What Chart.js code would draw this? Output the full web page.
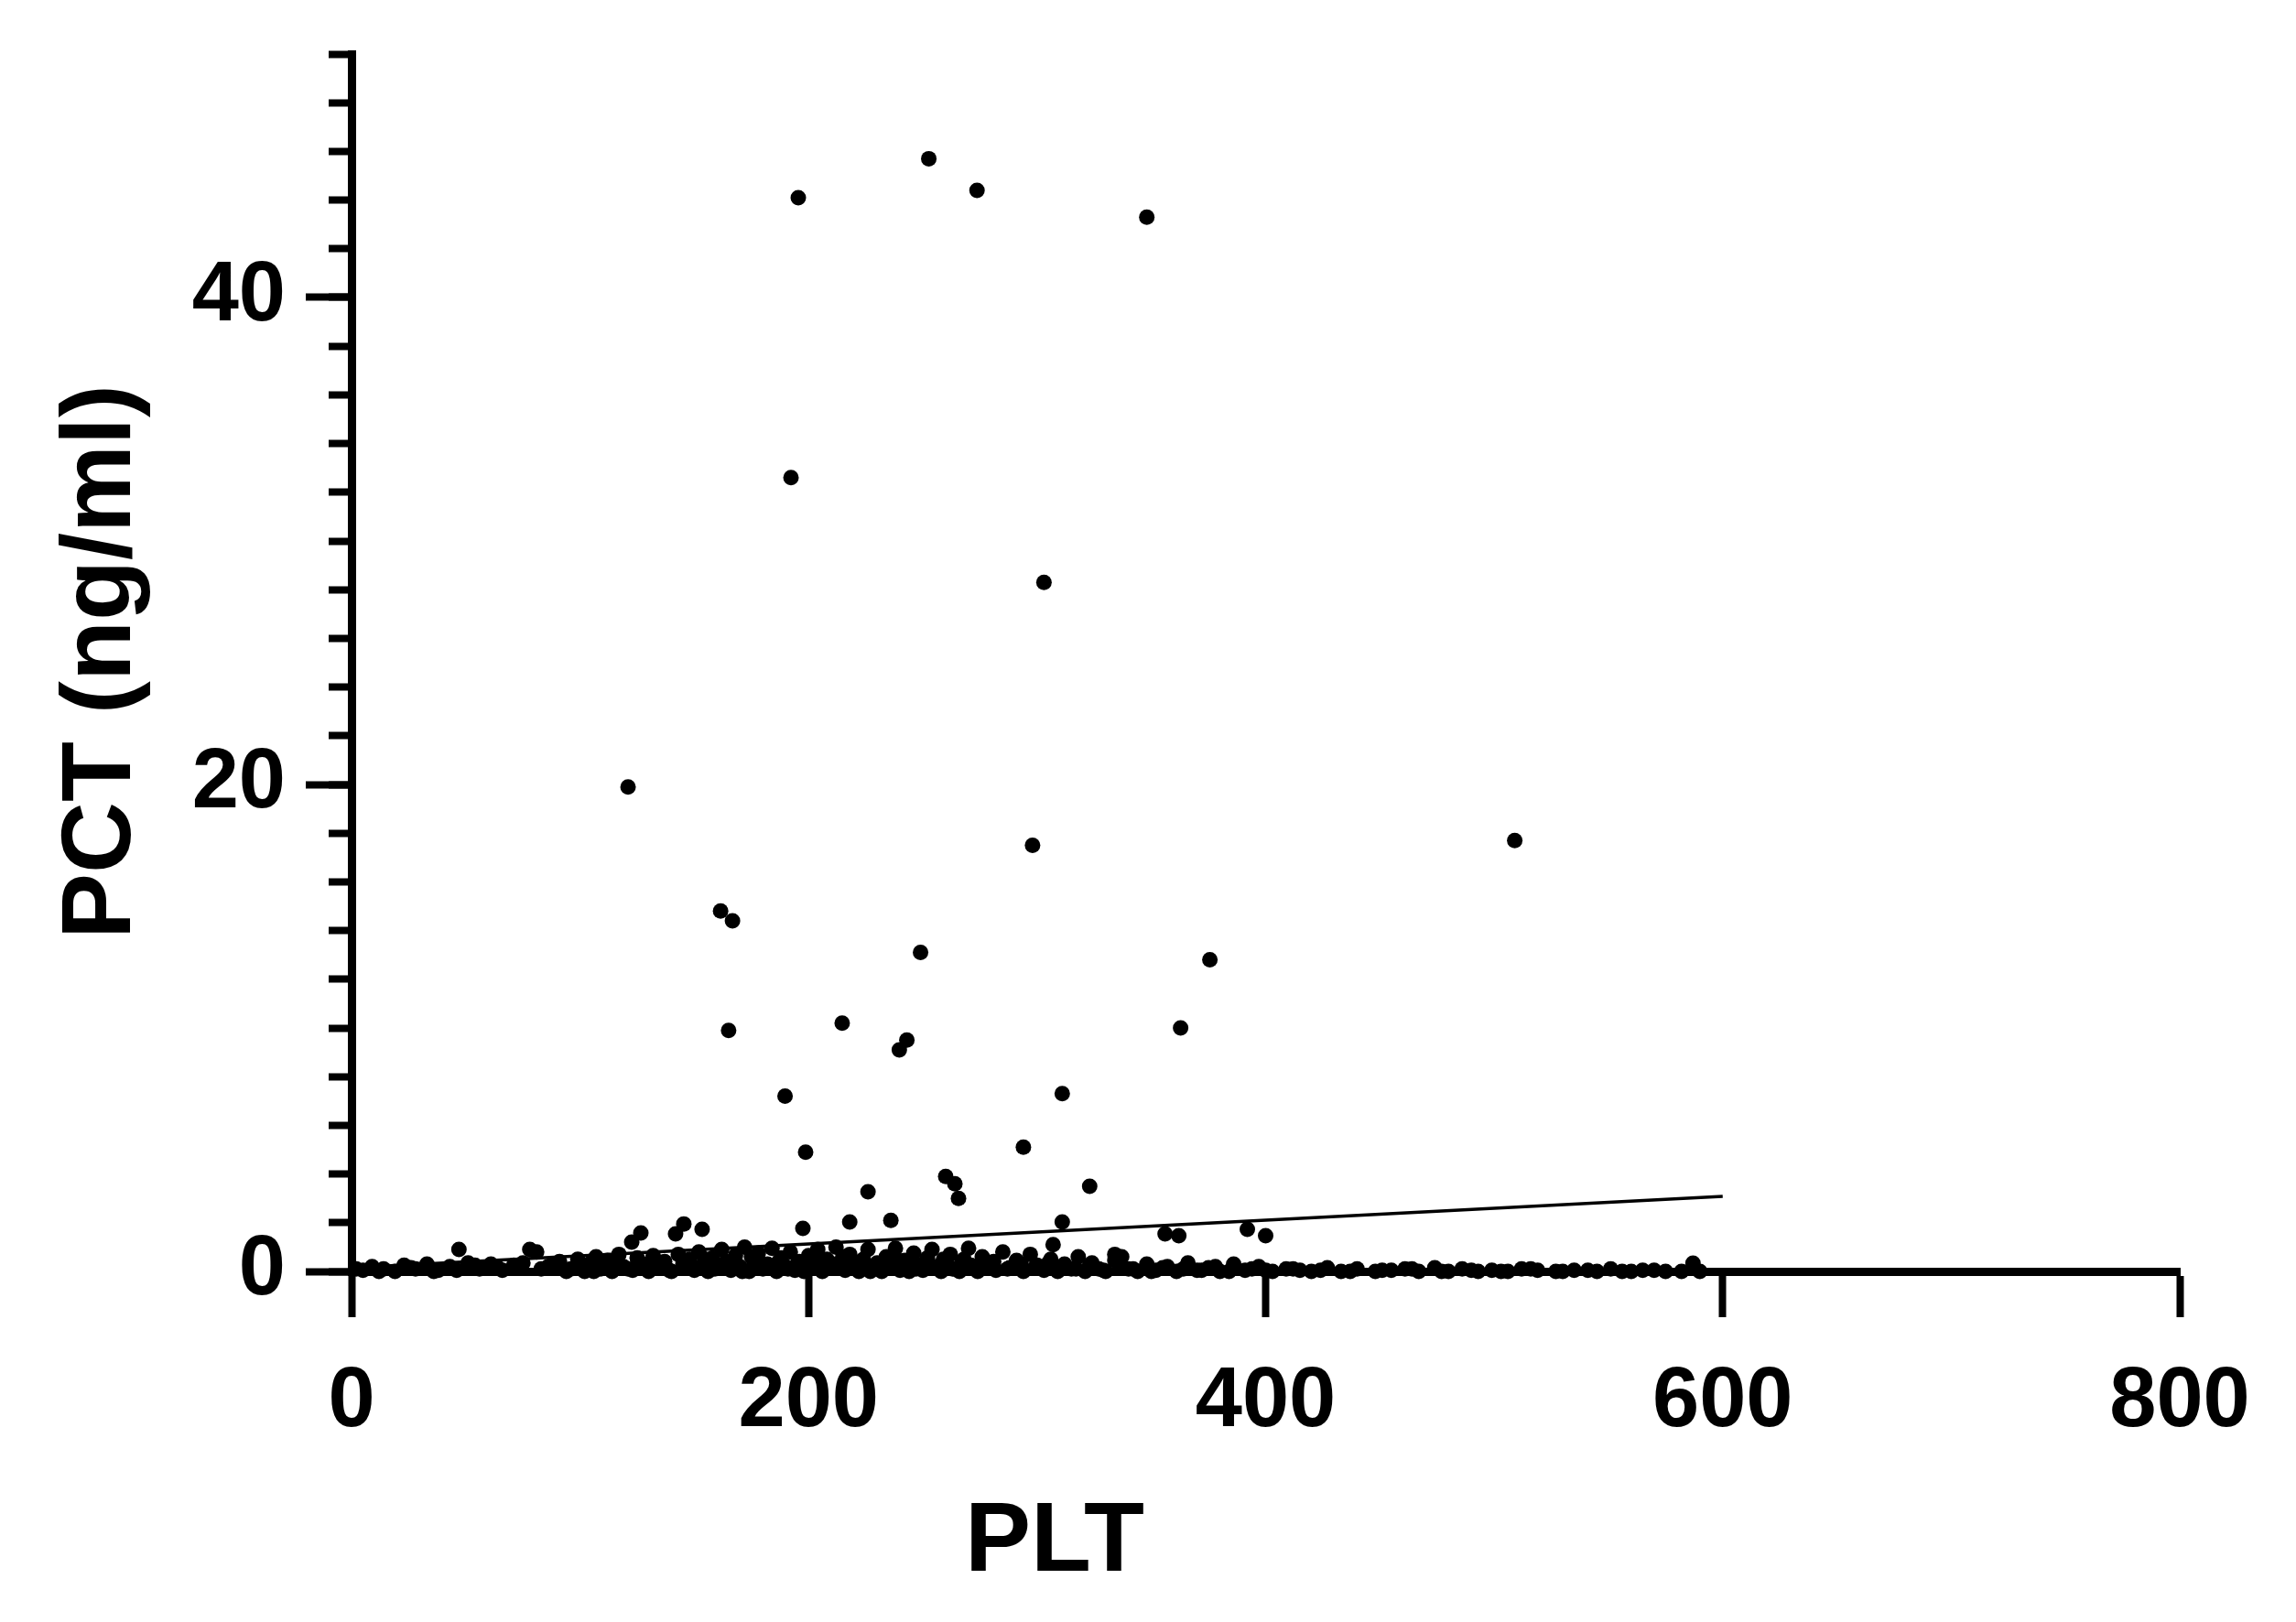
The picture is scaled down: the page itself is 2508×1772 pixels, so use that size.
<!DOCTYPE html>
<html>
<head>
<meta charset="utf-8">
<script src="https://cdn.jsdelivr.net/npm/chart.js@4.4.1/dist/chart.umd.min.js"></script>
<style>
  html, body { margin: 0; padding: 0; background: #fff; }
  canvas { display: block; }
</style>
</head>
<body>
<canvas id="myChart" width="2508" height="1772"></canvas>
<script>
// PLT (x) and PCT (y) for each patient
const pltValues = [
  195.5, 252.6, 273.7, 348, 192.3, 303, 121, 298, 509, 161.5, 166.7, 249, 375.6, 165, 214.7,
  239.7, 243, 362.8, 189.7, 311, 198.7, 294, 260, 264, 265.6, 323, 226,
  47, 78, 81, 122.6, 126.6, 141.8, 145.4, 153.4, 197.5, 218, 236, 311, 307, 334, 337, 356, 362,
  392, 400, 587,
  5, 9, 14, 19, 23, 28, 33, 38, 43, 51, 56, 61, 66, 71, 86, 91, 96, 99,
  102, 104, 107, 109, 112, 114, 117, 119, 123, 125, 128, 130, 132, 135, 137, 140, 143, 146, 148, 150,
  152, 154, 156, 158, 160, 162, 164, 166, 168, 170, 172, 174, 176, 178, 180, 182, 184, 186, 188, 190,
  192, 194, 196, 198, 200,
  202, 204, 206, 208, 210, 212, 214, 216, 218, 220, 222, 224, 226, 228, 230, 232, 234, 236, 238, 240,
  242, 244, 246, 248, 250, 252, 254, 256, 258, 260,
  262, 264, 266, 268, 270, 272, 274, 276, 279, 282, 285, 288, 291, 294, 297, 300, 303, 306, 309, 312,
  315, 318, 321, 324, 327,
  330, 334, 340, 344, 348, 352, 357, 361, 366, 370, 375, 380, 386, 391, 397, 403, 409, 415, 420,
  427, 433, 440, 448, 455, 461, 467, 474, 480, 486, 493, 499, 506, 512, 519, 527, 535, 545, 556, 565,
  575, 590,
  2, 12, 26, 36, 46, 54, 64, 75, 83, 88, 94,
  101, 106, 111, 116, 121, 127, 133, 139, 145, 149, 155, 159, 163, 167, 171, 175, 179, 183, 187, 191,
  195, 199, 203, 207, 211, 215, 219, 223, 227, 231, 235, 239, 243, 247, 251, 255, 259, 263, 267, 271,
  275, 281, 287, 293, 299, 305, 311, 317, 323, 329, 336, 342, 350, 355, 364, 372, 378, 384, 394, 400,
  412, 424, 437, 451, 464, 477, 490, 503, 516, 530, 541, 551, 560, 570, 582
];
const pctValues = [
  44.1, 45.7, 44.4, 43.3, 32.6, 28.3, 19.9, 17.5, 17.7, 14.8, 14.4, 13.1, 12.8, 9.9, 10.2,
  9.1, 9.5, 10.0, 7.2, 7.3, 4.9, 5.1, 3.9, 3.6, 3.0, 3.5, 3.27,
  0.9, 0.9, 0.8, 1.2, 1.58, 1.54, 1.95, 1.73, 1.77, 2.03, 2.1, 2.03, 1.1, 0.7, 0.6, 1.54, 1.47,
  1.73, 1.47, 0.34,
  0.05, 0.2, 0.1, 0.0, 0.25, 0.1, 0.3, 0.05, 0.2, 0.35, 0.1, 0.3, 0.05, 0.25, 0.2, 0.4, 0.1, 0.5,
  0.0, 0.3, 0.6, 0.1, 0.45, 0.0, 0.7, 0.2, 0.05, 0.55, 0.3, 0.0, 0.65, 0.15, 0.4, 0.0, 0.7, 0.25, 0.5, 0.05,
  0.8, 0.3, 0.0, 0.55, 0.15, 0.9, 0.4, 0.05, 0.65, 0.2, 1.0, 0.0, 0.45, 0.75, 0.1, 0.3, 0.95, 0.0, 0.55, 0.2,
  0.8, 0.05, 0.4, 0.0, 0.65,
  0.25, 0.9, 0.0, 0.5, 0.15, 1.0, 0.35, 0.05, 0.7, 0.2, 0.0, 0.5, 0.9, 0.1, 0.35, 0.0, 0.6, 0.2, 0.95, 0.05,
  0.45, 0.0, 0.75, 0.25, 0.05, 0.55, 0.9, 0.15, 0.0, 0.4,
  0.7, 0.1, 0.0, 0.5, 0.95, 0.2, 0.0, 0.6, 0.3, 0.05, 0.8, 0.15, 0.45, 0.0, 0.7, 0.25, 0.05, 0.5, 0.0, 0.3,
  0.1, 0.6, 0.0, 0.35, 0.1,
  0.0, 0.45, 0.1, 0.0, 0.3, 0.05, 0.2, 0.0, 0.35, 0.05, 0.15, 0.0, 0.3, 0.05, 0.2, 0.0, 0.1, 0.05, 0.0,
  0.15, 0.0, 0.1, 0.0, 0.05, 0.1, 0.0, 0.15, 0.0, 0.1, 0.0, 0.05, 0.0, 0.1, 0.05, 0.0, 0.05, 0.0, 0.0, 0.05,
  0.0, 0.0,
  0.1, 0.0, 0.15, 0.0, 0.05, 0.25, 0.15, 0.35, 0.1, 0.3, 0.0,
  0.15, 0.0, 0.25, 0.35, 0.1, 0.2, 0.45, 0.05, 0.3, 0.2, 0.5, 0.1, 0.25, 0.35, 0.0, 0.6, 0.3, 0.15, 0.4, 0.1,
  0.3, 0.2, 0.45, 0.1, 0.3, 0.6, 0.2, 0.4, 0.0, 0.3, 0.15, 0.45, 0.35, 0.1, 0.3, 0.2, 0.5, 0.1, 0.35, 0.25,
  0.15, 0.4, 0.1, 0.3, 0.15, 0.35, 0.2, 0.1, 0.25, 0.05, 0.2, 0.1, 0.0, 0.15, 0.1, 0.05, 0.2, 0.0, 0.1, 0.05,
  0.1, 0.05, 0.0, 0.05, 0.1, 0.0, 0.05, 0.0, 0.1, 0.0, 0.05, 0.1, 0.0, 0.05, 0.0
];

// linear fit line
const fitX = [0, 600];
const fitY = [0.15, 3.08];

const xTicks = [0, 200, 400, 600, 800];
const yTicks = [0, 20, 40];

const fontFamily = "'Liberation Sans', Arial, sans-serif";

const points = pltValues.map((x, i) => ({ x: x, y: pctValues[i] }));
const fitPoints = fitX.map((x, i) => ({ x: x, y: fitY[i] }));

// axis titles, placed like the original figure
const axisTitles = {
  id: "axisTitles",
  afterDraw(chart) {
    const c = chart.ctx;
    c.save();
    c.fillStyle = "#000";
    c.font = "bold 108px " + fontFamily;
    c.textAlign = "center";
    c.textBaseline = "middle";
    c.fillText("PLT", 1152, 1686);
    c.translate(112, 723);
    c.rotate(-Math.PI / 2);
    c.fillText("PCT (ng/ml)", 0, 0);
    c.restore();
  }
};

let myChart = document.getElementById("myChart").getContext("2d");

let scatterChart = new Chart(myChart, {
  type: "scatter",
  data: {
    datasets: [
      {
        data: points,
        pointRadius: 8.5,
        pointBackgroundColor: "#000",
        pointBorderWidth: 0,
        clip: false
      },
      {
        data: fitPoints,
        showLine: true,
        borderColor: "#000",
        borderWidth: 3.5,
        pointRadius: 0,
        clip: false
      }
    ]
  },
  options: {
    responsive: false,
    animation: false,
    events: [],
    plugins: {
      legend: { display: false },
      tooltip: { enabled: false }
    },
    layout: { padding: { top: 59, right: 127, left: 0, bottom: 0 } },
    scales: {
      x: {
        type: "linear",
        min: 0,
        max: 800,
        afterBuildTicks: (s) => { s.ticks = xTicks.map((v) => ({ value: v })); },
        afterFit: (s) => {
          s.height = 383;
          s.paddingLeft = 0;
          s.paddingRight = 0;
        },
        grid: { drawOnChartArea: false, tickLength: 50, tickWidth: 8, tickColor: "#000" },
        border: { color: "#000", width: 9 },
        ticks: {
          color: "#000",
          padding: 38,
          maxRotation: 0,
          font: { family: fontFamily, size: 92, weight: "bold" }
        }
      },
      y: {
        type: "linear",
        min: 0,
        max: 50,
        afterBuildTicks: (s) => { s.ticks = yTicks.map((v) => ({ value: v })); },
        afterFit: (s) => {
          s.width = 384;
          s.paddingTop = 0;
          s.paddingBottom = 0;
        },
        grid: { drawOnChartArea: false, tickLength: 50, tickWidth: 8, tickColor: "#000" },
        border: { color: "#000", width: 9 },
        ticks: {
          color: "#000",
          padding: 22,
          font: { family: fontFamily, size: 92, weight: "bold" }
        }
      },
      yMinor: {
        type: "linear",
        min: 0,
        max: 50,
        position: { x: 0 },
        afterFit: (s) => {
          s.paddingTop = 0;
          s.paddingBottom = 0;
        },
        grid: { drawOnChartArea: false, tickLength: 25, tickWidth: 8, tickColor: "#000" },
        border: { display: false },
        ticks: { stepSize: 2, display: false }
      }
    }
  },
  plugins: [axisTitles]
});
</script>
</body>
</html>
